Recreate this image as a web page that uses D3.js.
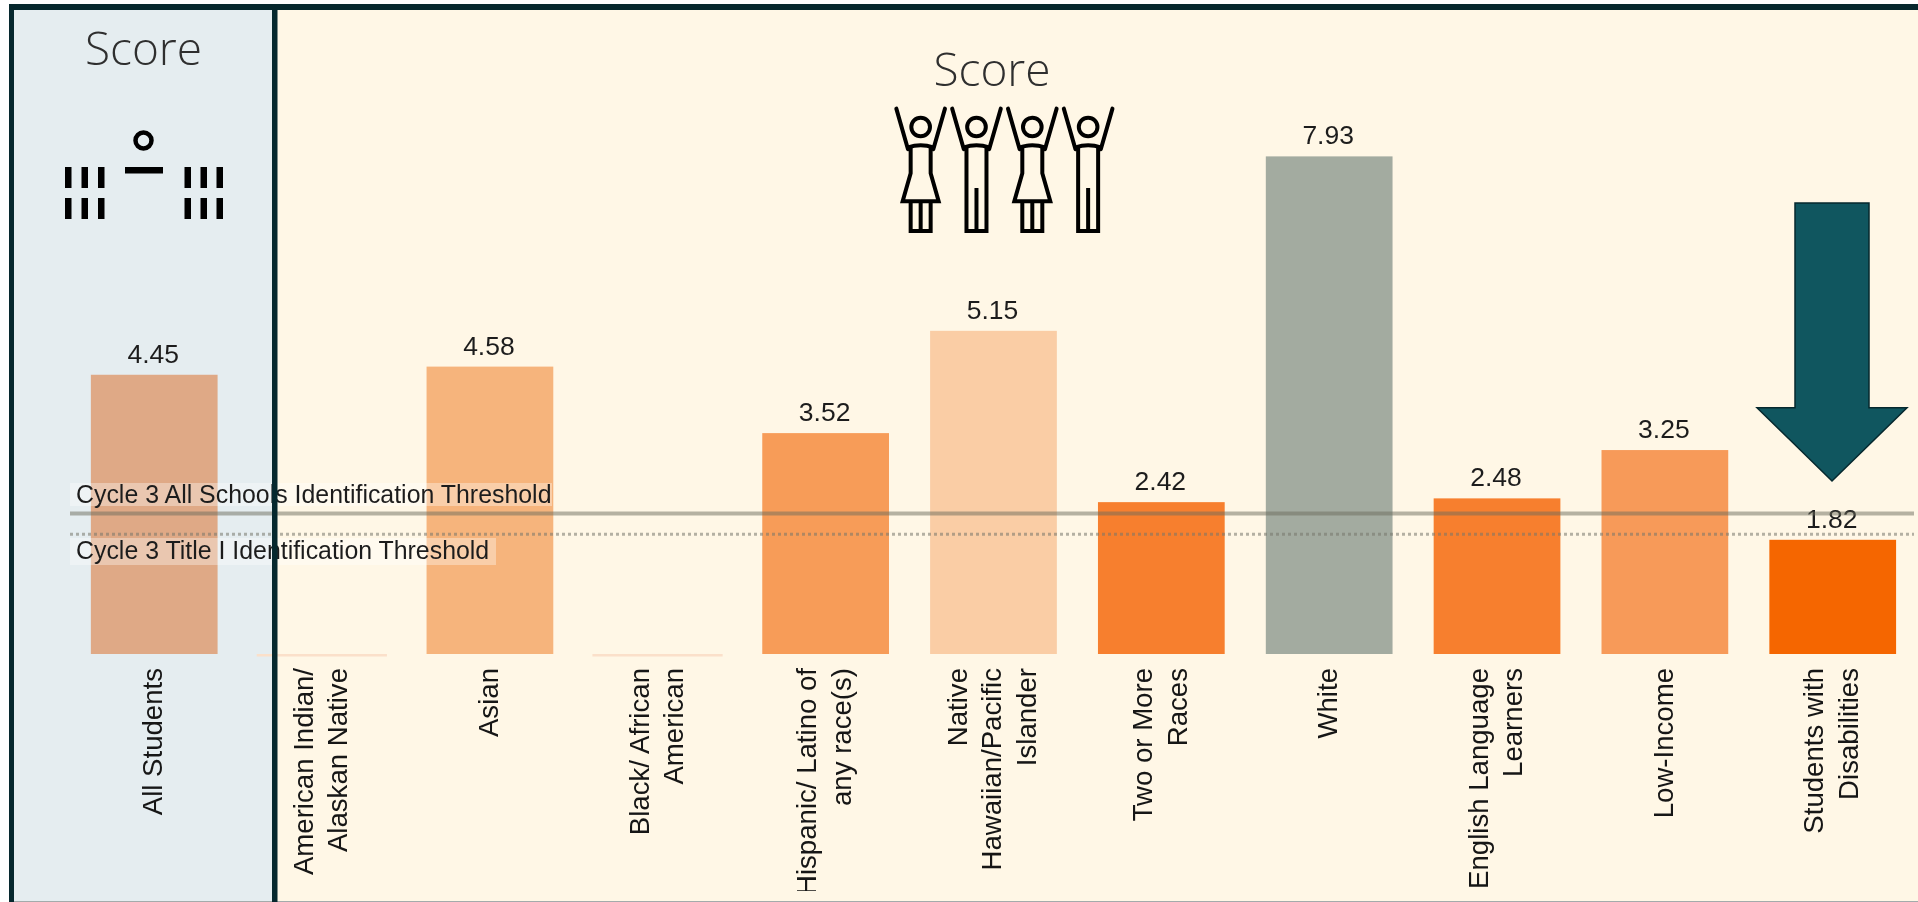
<!DOCTYPE html>
<html><head><meta charset="utf-8">
<script src="https://d3js.org/d3.v7.min.js"></script>
<style>html,body{margin:0;padding:0;background:#fff;overflow:hidden}svg{display:block}</style>
</head><body><svg id="c" width="1918" height="902"></svg>
<script>
const categories = ["All Students","American Indian/|Alaskan Native","Asian","Black/ African|American","Hispanic/ Latino of|any race(s)","Native|Hawaiian/Pacific|Islander","Two or More|Races","White","English Language|Learners","Low-Income","Students with|Disabilities"];
const scores = [4.45,null,4.58,null,3.52,5.15,2.42,7.93,2.48,3.25,1.82];
const barColors = ["#dfa986","#fbe0ca","#f6b47c","#fbe0ca","#f79c58","#facda5","#f77f2e","#a3aba0","#f77f2e","#f79a59","#f56600"];
const thresholdNames = ["Cycle 3 All Schools Identification Threshold","Cycle 3 Title I Identification Threshold"];
const thresholdValues = [2.24,1.91];

const svg = d3.select("#c");
const x = d3.scaleBand().domain(categories).range([70.3,70.3+11*167.85]).paddingInner(0.245).paddingOuter(0.1225);
const y = d3.scaleLinear().domain([0,8]).range([654,654-8*62.75]);
const dark="#06282e";
const defs=svg.append("defs");
const soft=defs.append("filter").attr("id","soft").attr("x","-5%").attr("y","-5%").attr("width","110%").attr("height","110%");
soft.append("feGaussianBlur").attr("stdDeviation",0.6);
defs.append("clipPath").attr("id","lab2").append("rect").attr("x",0).attr("y",-20).attr("width",1918).attr("height",243);

// panels
svg.append("rect").attr("x",14).attr("y",10).attr("width",258).attr("height",891).attr("fill","#e5edf0");
svg.append("rect").attr("x",277).attr("y",10).attr("width",1641).attr("height",891).attr("fill","#fff7e6");
svg.append("rect").attr("x",9).attr("y",901).attr("width",1909).attr("height",1).attr("fill","#a3abab");

// bars
svg.append("g").selectAll("rect").data(categories).join("rect")
  .attr("x",(d,i)=>scores[i]==null?x(d)-2:x(d))
  .attr("width",(d,i)=>scores[i]==null?x.bandwidth()+3.5:x.bandwidth())
  .attr("y",(d,i)=>scores[i]==null?y(0):y(scores[i]))
  .attr("height",(d,i)=>scores[i]==null?2.5:y(0)-y(scores[i]))
  .attr("fill",(d,i)=>barColors[i]);

// values
svg.append("g").attr("filter","url(#soft)").selectAll("text").data(categories.filter((d,i)=>scores[i]!=null)).join("text")
  .attr("x",d=>x(d)+x.bandwidth()/2-1)
  .attr("y",d=>y(scores[categories.indexOf(d)])-12)
  .attr("text-anchor","middle").attr("font-family","Liberation Sans").attr("font-size",26.5).attr("fill","#1f1f1f")
  .text(d=>scores[categories.indexOf(d)].toFixed(2));

// axis labels
const axisClip = svg.append("g").attr("transform","translate(0,668)").attr("clip-path","url(#lab2)");
const axis = axisClip.append("g").call(d3.axisBottom(x).tickSize(0).tickPadding(0));
axis.select(".domain").remove();
axis.selectAll(".tick text").each(function(d){
  const lines=d.split("|"), t=d3.select(this);
  t.text(null).attr("transform","rotate(-90)").attr("text-anchor","end").attr("x",0).attr("y",0).attr("dy",null)
   .attr("font-family","Liberation Sans").attr("font-size",27.6).attr("fill","#141414");
  lines.forEach((l,i)=>t.append("tspan").attr("x",0).attr("y",(i-(lines.length-1)/2)*34.5+8).text(l));
});
axis.attr("filter","url(#soft)");

// thresholds
const thrLabelY=[503,559], thrBg=[[70,483,482,23],[70,538,426,27]];
thresholdValues.forEach((v,i)=>{
  svg.append("line").attr("x1",70).attr("x2",1914).attr("y1",y(v)).attr("y2",y(v))
    .attr("stroke",i==0?"#6b6b5c":"#77776c").attr("stroke-opacity",i==0?0.5:0.55)
    .attr("stroke-width",i==0?4:3).attr("stroke-dasharray",i==0?null:"3 3");
  svg.append("rect").attr("x",thrBg[i][0]).attr("y",thrBg[i][1]).attr("width",thrBg[i][2]).attr("height",thrBg[i][3])
    .attr("fill","#fff").attr("fill-opacity",0.35);
  svg.append("text").attr("x",76).attr("y",thrLabelY[i]).attr("font-family","Liberation Sans").attr("font-size",24.9)
    .attr("fill","#1f1f1f").attr("filter","url(#soft)").text(thresholdNames[i]);
});

// divider and frame
svg.append("rect").attr("x",9).attr("y",4).attr("width",1909).attr("height",6).attr("fill",dark);
svg.append("rect").attr("x",9).attr("y",4).attr("width",5).attr("height",898).attr("fill",dark);
svg.append("rect").attr("x",272).attr("y",4).attr("width",5.5).attr("height",898).attr("fill",dark);

// titles
[[143.5,65],[992,86]].forEach(p=>svg.append("text").attr("x",p[0]).attr("y",p[1]).attr("text-anchor","middle")
  .attr("font-family","Open Sans").attr("font-weight",300).attr("font-size",46).attr("fill","#2f2f2f").text("Score"));

// left icon
const ic=svg.append("g").attr("fill","#000");
ic.append("circle").attr("cx",143.5).attr("cy",140.5).attr("r",8).attr("fill","none").attr("stroke","#000").attr("stroke-width",4.5);
ic.append("rect").attr("x",125).attr("y",167).attr("width",38).attr("height",6.5);
[65,81.5,98,184.5,200.5,216.5].forEach(xx=>[167,198].forEach(yy=>
  ic.append("rect").attr("x",xx).attr("y",yy).attr("width",6.5).attr("height",21)));

// people icon
const ppl=svg.append("g").attr("transform","translate(780,30) scale(0.3333)").attr("fill","none").attr("stroke","#000").attr("stroke-width",12);
[0,1,2,3].forEach(k=>{
  const g=ppl.append("g").attr("transform",`translate(${k*167.5},0)`);
  g.append("circle").attr("cx",422).attr("cy",291).attr("r",28);
  g.append("path").attr("stroke-linecap","round").attr("d","M349 236L384 358");
  g.append("path").attr("stroke-linecap","round").attr("d","M495 236L460 358");
  g.append("path").attr("d","M384 352Q422 340 460 352");
  if(k%2==0){
    g.append("path").attr("d","M392 352V430L368 514H476L452 430V352");
    g.append("path").attr("d","M392 514V603H452V514M422 514V603");
  } else {
    g.append("path").attr("d","M392 352V603H452V352M422 474V603");
  }
});

// arrow
svg.append("path").attr("d","M1795 203H1869V407.7H1907L1832 481L1757 407.7H1795Z").attr("fill","#10565f").attr("stroke",dark).attr("stroke-width",1.5);
</script></body></html>
